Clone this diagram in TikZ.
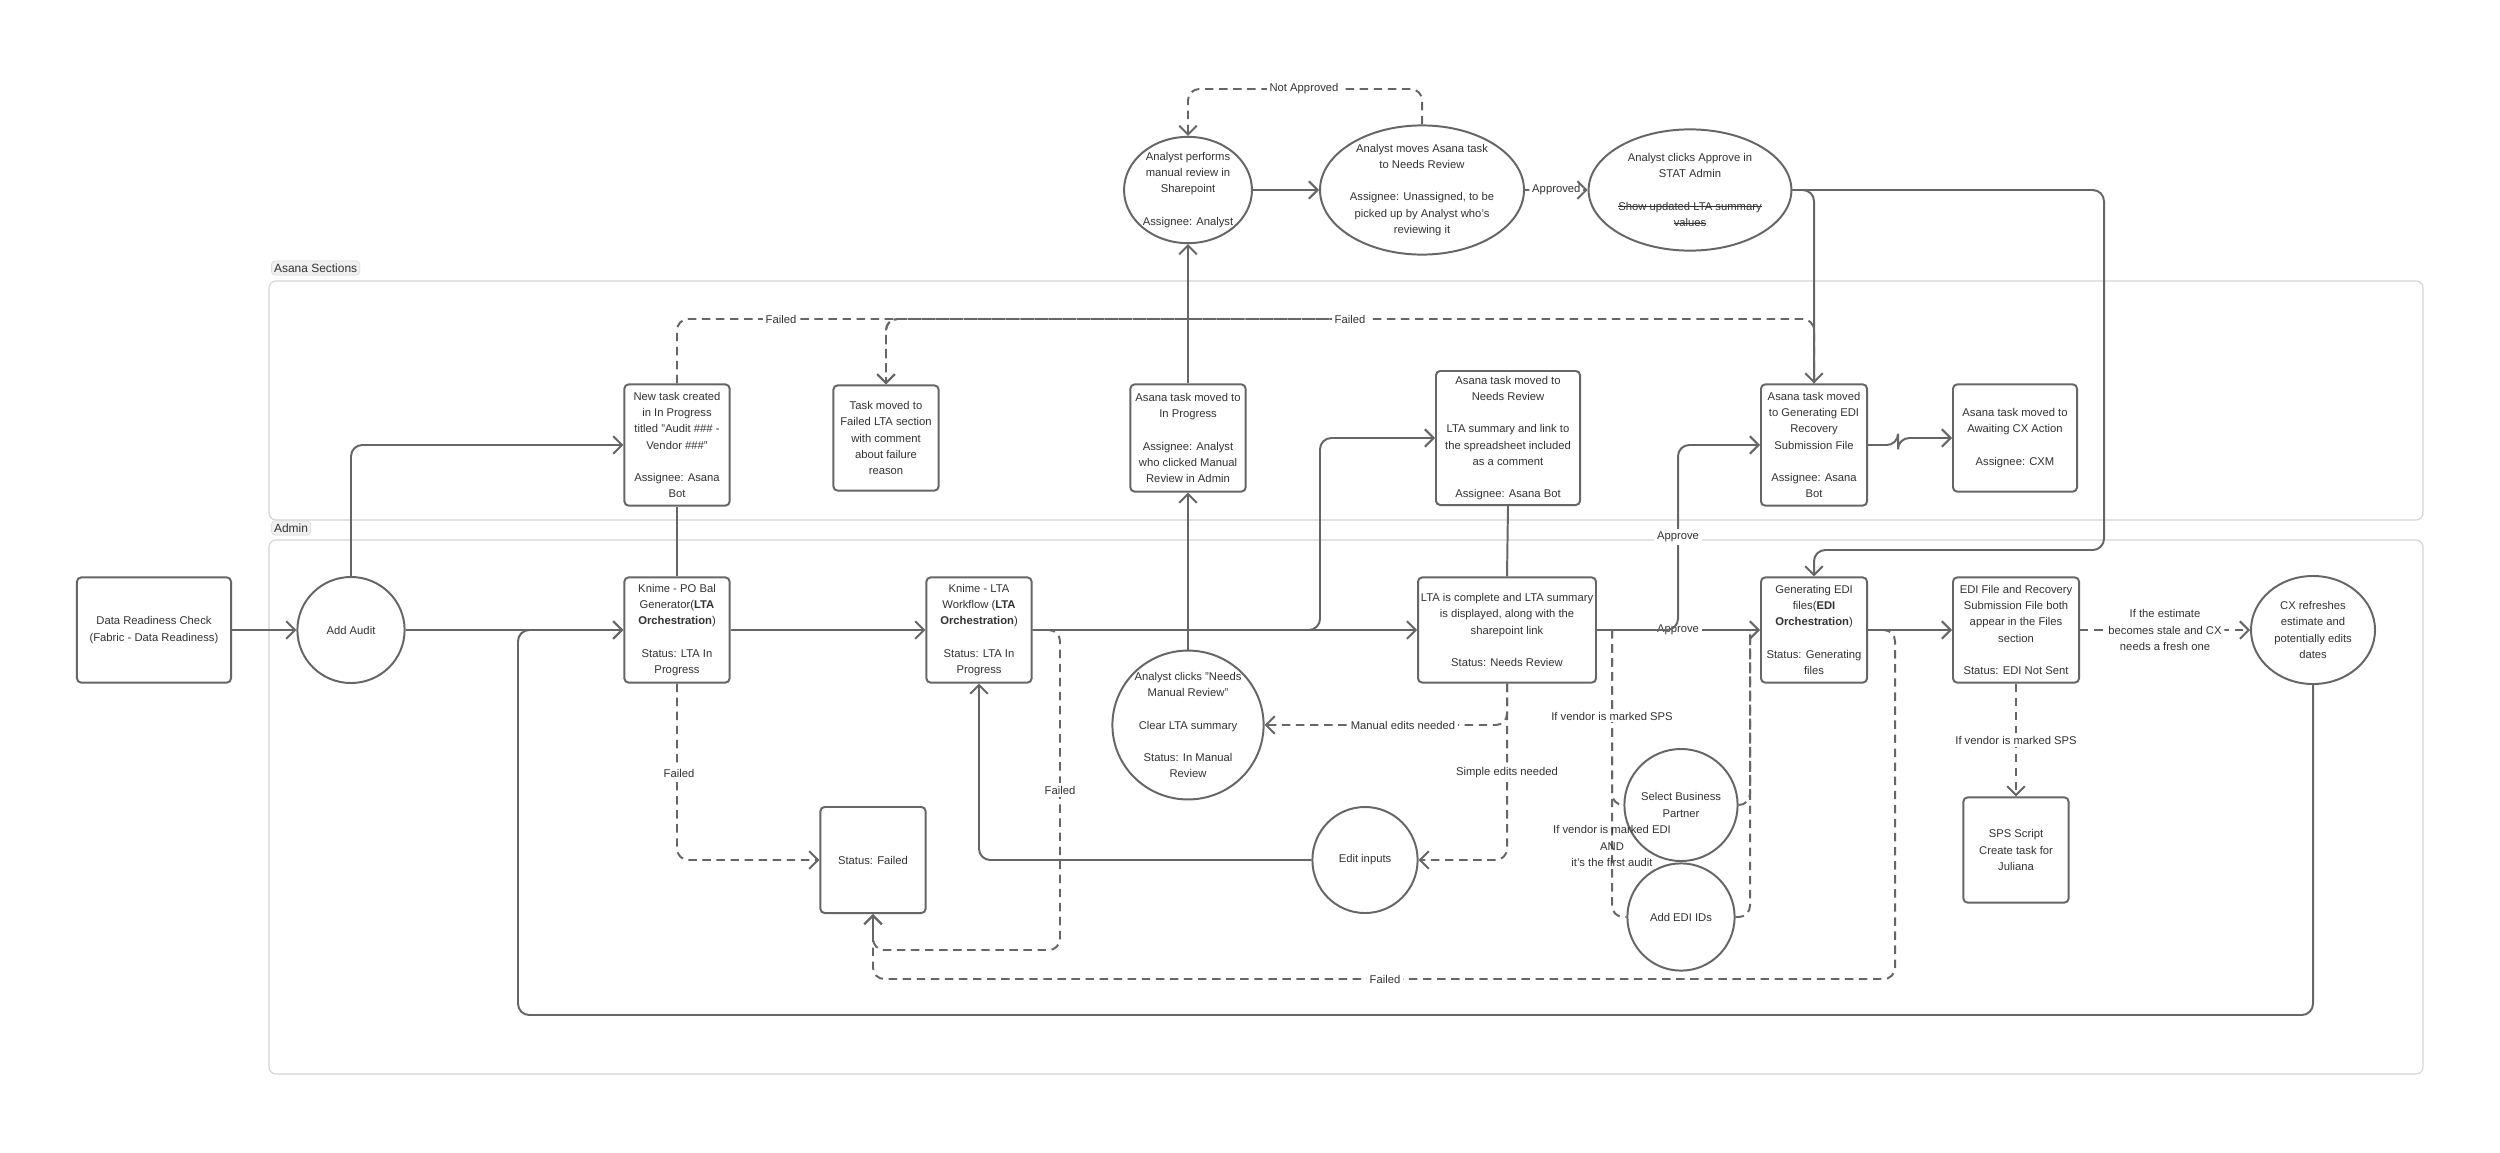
\documentclass[tikz,border=0pt]{standalone}
\usepackage{fontspec}
\setmainfont{Liberation Sans}
\usetikzlibrary{shapes.geometric,arrows.meta}
\newcommand\mystk[1]{\setbox0\hbox{#1}\rlap{\rule[0.55ex]{\wd0}{0.4pt}}\box0}
\definecolor{ln}{HTML}{666666}
\definecolor{fr}{HTML}{D4D4D4}
\definecolor{tx}{HTML}{333333}
\begin{document}
\begin{tikzpicture}[x=0.025cm,y=-0.025cm,
  every node/.style={font=\fontsize{8}{11.5}\selectfont, text=tx},
  box/.style={draw=ln, line width=1.4pt, rounded corners=3pt, align=center, inner sep=2pt},
  circ/.style={draw=ln, line width=1.4pt, ellipse, align=center, inner sep=0pt},
  arr/.style={draw=ln, line width=1.4pt, rounded corners=8pt, -{Straight Barb[length=2.2mm,width=4.4mm]}},
  pl/.style={draw=ln, line width=1.4pt, rounded corners=8pt},
  dsh/.style={dash pattern=on 6pt off 4pt},
  lbl/.style={fill=white, inner sep=2pt, align=center},
  frame/.style={draw=fr, line width=0.8pt, rounded corners=5pt},
  tag/.style={draw=fr, fill=gray!12, rounded corners=3pt, inner sep=2pt, anchor=west, font=\fontsize{8.5}{10}\selectfont}]
\useasboundingbox (0,0) rectangle (2500,1152);
\fill[white] (0,0) rectangle (2500,1152);
% frames
\draw[frame] (269,281) rectangle (2423,520);
\node[tag] (tA) at (271,268) {Asana Sections};
\draw[frame] (269,540) rectangle (2423,1074);
\node[tag] (tB) at (271,528) {Admin};
% top circles
\node[circ, minimum width=3.15cm, minimum height=2.63cm] (manrev) at (1188,190) {Analyst performs\\manual review in\\Sharepoint\\ \strut\\Assignee: Analyst};
\node[circ, minimum width=4.58cm, minimum height=3.03cm] (moves) at (1422,190) {Analyst moves Asana task\\to Needs Review\\ \strut\\Assignee: Unassigned, to be\\picked up by Analyst who's\\reviewing it};
\node[circ, minimum width=4.55cm, minimum height=3.03cm] (approve) at (1690,190) {Analyst clicks Approve in\\STAT Admin\\ \strut\\\mystk{Show updated LTA summary}\\\mystk{values}};
% asana row
\node[box, minimum width=2.63cm, minimum height=3.03cm] (newtask) at (677,445) {New task created\\in In Progress\\titled "Audit \#\#\# -\\Vendor \#\#\#"\\ \strut\\Assignee: Asana\\Bot};
\node[box, minimum width=2.63cm, minimum height=2.63cm] (failtask) at (886,438) {Task moved to\\Failed LTA section\\with comment\\about failure\\reason};
\node[box, minimum width=2.88cm, minimum height=2.68cm] (asanaip) at (1188,438) {Asana task moved to\\In Progress\\ \strut\\Assignee: Analyst\\who clicked Manual\\Review in Admin};
\node[box, minimum width=3.6cm, minimum height=3.35cm] (asananr) at (1508,438) {Asana task moved to\\Needs Review\\ \strut\\LTA summary and link to\\the spreadsheet included\\as a comment\\ \strut\\Assignee: Asana Bot};
\node[box, minimum width=2.65cm, minimum height=3.03cm] (asanaedi) at (1814,445) {Asana task moved\\to Generating EDI\\Recovery\\Submission File\\ \strut\\Assignee: Asana\\Bot};
\node[box, minimum width=3.1cm, minimum height=2.68cm] (awaiting) at (2015,438) {Asana task moved to\\Awaiting CX Action\\ \strut\\Assignee: CXM};
% admin row
\node[box, minimum width=3.85cm, minimum height=2.63cm] (ready) at (154,630) {Data Readiness Check\\(Fabric - Data Readiness)};
\node[circ, minimum width=2.68cm, minimum height=2.65cm] (audit) at (351,630) {Add Audit};
\node[box, minimum width=2.63cm, minimum height=2.63cm] (knimepo) at (677,630) {Knime - PO Bal\\Generator(\textbf{LTA}\\\textbf{Orchestration})\\ \strut\\Status: LTA In\\Progress};
\node[box, minimum width=2.63cm, minimum height=2.63cm] (knimelta) at (979,630) {Knime - LTA\\Workflow (\textbf{LTA}\\\textbf{Orchestration})\\ \strut\\Status: LTA In\\Progress};
\node[box, minimum width=4.25cm, minimum height=2.63cm] (lta) at (1507,630) {LTA is complete and LTA summary\\is displayed, along with the\\sharepoint link\\ \strut\\Status: Needs Review};
\node[box, minimum width=2.65cm, minimum height=2.63cm] (genedi) at (1814,630) {Generating EDI\\files(\textbf{EDI}\\\textbf{Orchestration})\\ \strut\\Status: Generating\\files};
\node[box, minimum width=3.15cm, minimum height=2.63cm] (edifile) at (2016,630) {EDI File and Recovery\\Submission File both\\appear in the Files\\section\\ \strut\\Status: EDI Not Sent};
\node[circ, minimum width=3.1cm, minimum height=2.7cm] (cx) at (2313,630) {CX refreshes\\estimate and\\potentially edits\\dates};
% lower
\node[circ, minimum width=3.43cm, minimum height=3.58cm] (mnr) at (1188,725) {Analyst clicks "Needs\\Manual Review"\\ \strut\\Clear LTA summary\\ \strut\\Status: In Manual\\Review};
\node[box, minimum width=2.63cm, minimum height=2.65cm] (failed) at (873,860) {Status: Failed};
\node[circ, minimum width=2.63cm, minimum height=2.65cm] (edit) at (1365,860) {Edit inputs};
\node[circ, minimum width=2.68cm, minimum height=2.8cm] (sbp) at (1681,805) {Select Business\\Partner};
\node[circ, minimum width=2.68cm, minimum height=2.68cm] (addedi) at (1681,917) {Add EDI IDs};
\node[box, minimum width=2.63cm, minimum height=2.63cm] (sps) at (2016,850) {SPS Script\\Create task for\\Juliana};
% coordinates
\coordinate (na) at (1304,89);
\coordinate (f2) at (1350,319);
\coordinate (c1) at (2104,190);
\coordinate (c2) at (2104,550);
\coordinate (br) at (1320,630);
\coordinate (ap) at (1678,630);
\coordinate (lp) at (518,1015);
\coordinate (s1) at (1612,630);
\coordinate (s2) at (1750,630);
\coordinate (k1) at (1060,950);
\coordinate (g1) at (1895,979);
% connectors
\draw[arr] (ready) -- (audit);
\draw[arr] (audit) -- (knimepo);
\draw[arr] (audit.north) |- (newtask.west);
\draw[pl] (newtask.south) -- (knimepo.north);
\draw[arr,dsh] (newtask.north) |- (f2) -| (failtask.north);
\node[lbl] at (781,319) {Failed};
\draw[arr,dsh] (asanaedi.north) |- (f2) -| (failtask.north);
\node[lbl] at (1350,319) {Failed};
\draw[arr] (knimepo) -- (knimelta);
\draw[arr] (knimelta) -- (lta);
\draw[arr] (knimelta.east) -- (br) |- (asananr.west);
\draw[arr] (mnr.north) -- (asanaip.south);
\draw[arr] (asanaip.north) -- (manrev.south);
\draw[arr] (manrev) -- (moves);
\draw[arr] (moves) -- node[lbl]{Approved} (approve);
\draw[arr,dsh] (moves.north) |- (na) -| (manrev.north);
\node[lbl] at (na) {Not Approved};
\draw[arr] (approve.east) -| (asanaedi.north);
\draw[arr] (approve.east) -- (c1) -- (c2) -| (genedi.north);
\draw[pl] (asananr.south) -- (lta.north);
\draw[arr] (asanaedi.east) -- ++(30,0) |- (awaiting.west);
\draw[arr] (lta) -- (genedi);
\node[lbl] at (ap) {Approve};
\draw[arr] (lta.east) -- (ap) |- (asanaedi.west);
\node[lbl] at (1678,537) {Approve};
\draw[arr] (genedi) -- (edifile);
\draw[arr,dsh] (edifile) -- node[lbl]{If the estimate\\becomes stale and CX\\needs a fresh one} (cx);
\draw[arr] (cx.south) |- (lp) |- (knimepo.west);
\draw[arr,dsh] (edifile.south) -- node[lbl]{If vendor is marked SPS} (sps.north);
\draw[arr,dsh] (knimepo.south) |- (failed.west);
\node[lbl] at (679,773) {Failed};
\draw[arr,dsh] (knimelta.east) -| (k1) -| (failed.south);
\node[lbl] at (1060,790) {Failed};
\draw[arr,dsh] (genedi.east) -| (g1) -| (failed.south);
\node[lbl] at (1385,979) {Failed};
\draw[arr,dsh] (lta.south) |- (mnr.east);
\node[lbl] at (1403,725) {Manual edits needed};
\draw[arr,dsh] (lta.south) |- (edit.east);
\node[lbl] at (1507,773) {Simple edits needed};
\draw[arr] (edit.west) -| (knimelta.south);
\draw[pl,dsh] (s1) |- (sbp.west);
\draw[pl,dsh] (s1) |- (addedi.west);
\draw[pl,dsh] (sbp.east) -| (s2);
\draw[pl,dsh] (addedi.east) -| (s2);
\node[fill=white, inner sep=1pt] at (1612,716) {If vendor is marked SPS};
\node[align=center, inner sep=1pt] at (1612,846) {If vendor is marked EDI\\AND\\it's the first audit};
\end{tikzpicture}
\end{document}
